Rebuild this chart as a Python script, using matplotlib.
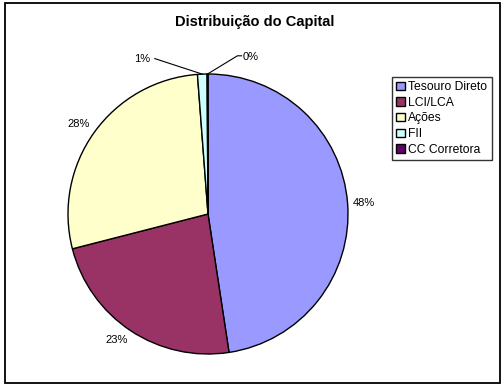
import numpy as np
import matplotlib
matplotlib.use("Agg")
import matplotlib.pyplot as plt
from matplotlib.patches import Rectangle

plt.rcParams['font.family'] = ['Liberation Sans', 'DejaVu Sans']

categories = ['Tesouro Direto', 'LCI/LCA', 'Ações', 'FII', 'CC Corretora']
values = [47.6, 23.4, 27.8, 1.1, 0.1]
colors = ['#9999FF', '#993366', '#FFFFCC', '#CCFFFF', '#660066']

W, H = 504, 389
fig = plt.figure(figsize=(W / 100, H / 100), dpi=100)

# frame around the whole chart
fig.patches.append(Rectangle((5 / W, 1 - 383 / H), 495 / W, 380 / H,
                             transform=fig.transFigure, fill=False,
                             edgecolor='black', linewidth=1.3))

cx, cy, r = 208, 214, 140
ax = fig.add_axes([(cx - r) / W, (H - cy - r) / H, 2 * r / W, 2 * r / H])
wedges, _ = ax.pie(values, colors=colors, startangle=90, counterclock=False,
                   wedgeprops=dict(edgecolor='black', linewidth=1.0))
ax.set_xlim(-1, 1)
ax.set_ylim(-1, 1)
ax.set_aspect('equal')
ax.axis('off')

total = sum(values)
pcts = ['%d%%' % round(v / total * 100) for v in values]

for i, w in enumerate(wedges):
    mid = np.deg2rad((w.theta1 + w.theta2) / 2)
    x, y = np.cos(mid), np.sin(mid)
    if values[i] / total < 0.05:
        continue
    ha = 'left' if x > 0 else 'right'
    if abs(y) < 0.3:
        va = 'center'
    else:
        va = 'bottom' if y > 0 else 'top'
    ax.text(1.04 * x, 1.04 * y, pcts[i], ha=ha, va=va, fontsize=8)

# small slices with leader lines
mid = np.deg2rad((wedges[3].theta1 + wedges[3].theta2) / 2)
px, py = np.cos(mid), np.sin(mid)
ax.plot([px, -0.38], [py, 1.11], color='black', lw=0.8, clip_on=False)
ax.text(-0.41, 1.11, pcts[3], ha='right', va='center', fontsize=8)

mid = np.deg2rad((wedges[4].theta1 + wedges[4].theta2) / 2)
px, py = np.cos(mid), np.sin(mid)
ax.plot([px, 0.21, 0.24], [py, 1.13, 1.13], color='black', lw=0.8, clip_on=False)
ax.text(0.245, 1.12, pcts[4], ha='left', va='center', fontsize=8)

fig.text(255 / W, 1 - 22 / H, 'Distribuição do Capital', ha='center', va='center',
         fontsize=10.5, fontweight='bold')

leg = fig.legend(wedges, categories, loc='upper left',
                 bbox_to_anchor=(392 / W, 1 - 77 / H), frameon=True,
                 fancybox=False, edgecolor='black', fontsize=8.7,
                 handlelength=0.7, handleheight=0.7, handletextpad=0.3,
                 labelspacing=0.3, borderpad=0.35, borderaxespad=0)
leg.get_frame().set_linewidth(1.0)

fig.savefig('out.png', dpi=100)
